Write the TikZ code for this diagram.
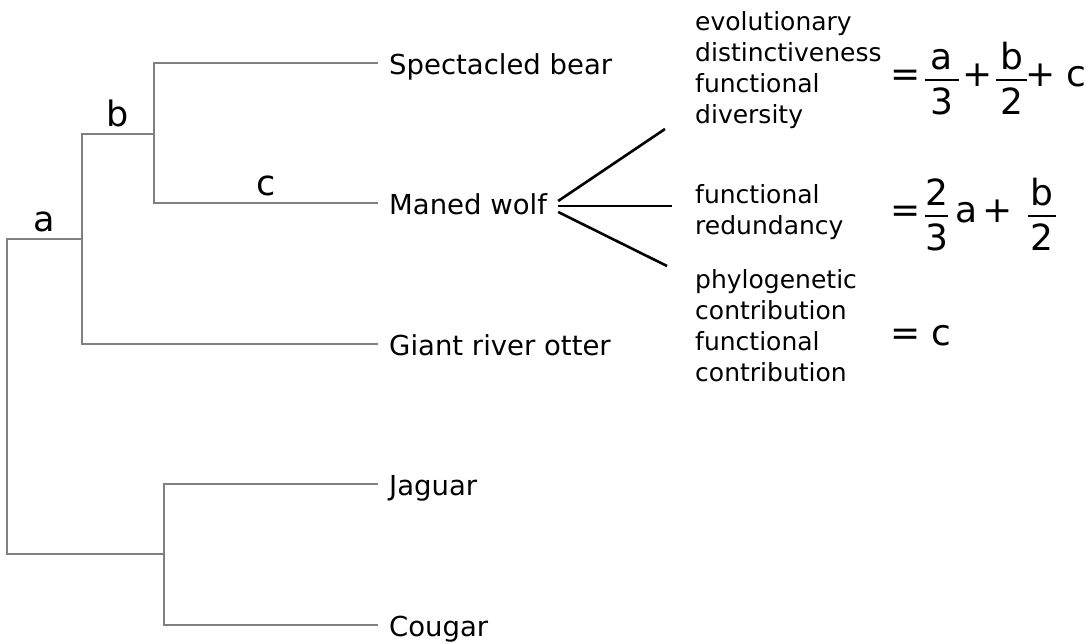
\documentclass[tikz,border=0pt]{standalone}
\usepackage{amsmath}
\usepackage{fontspec}
\setmainfont{DejaVu Sans}
\newcommand{\frc}[3][0pt]{\genfrac{}{}{2.4pt}{0}{\text{\kern#1 #2\kern#1}}{\text{#3}}}

\begin{document}
\begin{tikzpicture}[x=1pt,y=-1pt,
      branch/.style={draw=black!50, line width=1.6pt},
      species/.style={anchor=west, inner xsep=11pt, inner ysep=0pt,
        text height=22pt, text depth=0pt, font=\fontsize{27.5}{33}\selectfont},
      brlabel/.style={above=3pt, inner sep=3pt, font=\fontsize{35}{40}\selectfont},
      measure/.style={anchor=west, align=left, inner sep=0pt, font=\fontsize{25}{31}\selectfont},
      formula/.style={anchor=base west, inner sep=0pt, font=\fontsize{36}{40}\selectfont},
      fanline/.style={draw=black, line width=2.6pt}]

    \useasboundingbox (0,0) rectangle (1092,643);

    \coordinate (root) at (7,400);
    \coordinate (ab) at (82,239);
    \coordinate (bb) at (154,134);
    \coordinate (cats) at (164,554);

    \node[species] (bear)   at (378,63)  {Spectacled bear};
    \node[species] (wolf)   at (378,203) {Maned wolf};
    \node[species] (otter)  at (378,344) {Giant river otter};
    \node[species] (jaguar) at (378,484) {Jaguar};
    \node[species] (cougar) at (378,625) {Cougar};

    \draw[branch] (root) |- node[brlabel, pos=0.75] {a} (ab);
    \draw[branch] (root) |- (cats);
    \draw[branch] (ab) |- node[brlabel, pos=0.75] {b} (bb);
    \draw[branch] (ab) |- (otter.west);
    \draw[branch] (bb) |- (bear.west);
    \draw[branch] (bb) |- node[brlabel, pos=0.75] {c} (wolf.west);
    \draw[branch] (cats) |- (jaguar.west);
    \draw[branch] (cats) |- (cougar.west);

    \node[measure] (dd) at (695,70)  {evolutionary\\distinctiveness\\functional\\diversity};
    \node[measure] (fr) at (695,212) {functional\\redundancy};
    \node[measure] (pc) at (695,326) {phylogenetic\\contribution\\functional\\contribution};

    \node[formula] (fdd) at (890,86)
      {$\text{=}\kern3pt\frc[6pt]{a}{3}\kern3pt\text{+}\kern2pt\frc[4pt]{b}{2}\kern-3pt\text{+ c}$};
    \node[formula] (ffr) at (890,222)
      {$\text{=}\kern3pt\frc[0.5pt]{2}{3}\kern6pt\text{a}\kern5pt\text{+}\kern14pt\frc[2.5pt]{b}{2}$};
    \node[formula] (fpc) at (890,345) {= c};

    \coordinate (ddtip) at (665,129);
    \coordinate (frtip) at (672,206);
    \coordinate (pctip) at (667,266);

    \draw[fanline] ([yshift=2pt]wolf.east)  -- (ddtip);
    \draw[fanline] ([yshift=-3pt]wolf.east) -- (frtip);
    \draw[fanline] ([yshift=-9pt]wolf.east) -- (pctip);

  \end{tikzpicture}
\end{document}
